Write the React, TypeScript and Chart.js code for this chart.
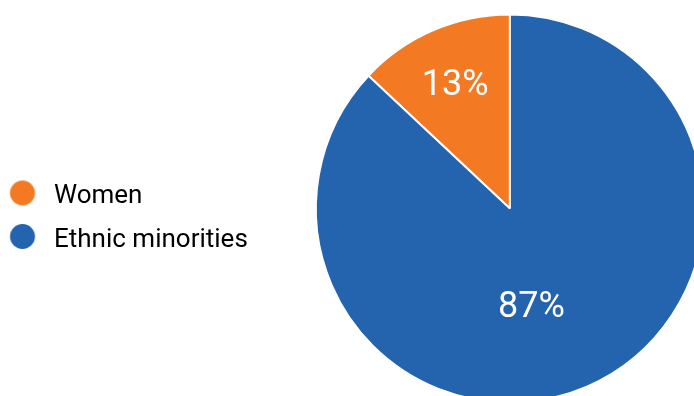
import React, { useEffect, useRef } from "react";
import { Chart, registerables } from "chart.js";

Chart.register(...registerables);

const categories = ["Women", "Ethnic minorities"];
const values = [13, 87];
const sliceColors = ["#F37A22", "#2463AE"];

const CANVAS_W = 780;
const CANVAS_H = 417;

function makeDot(color: string): HTMLCanvasElement {
  const c = document.createElement("canvas");
  c.width = 42;
  c.height = 34;
  const ctx = c.getContext("2d")!;
  ctx.fillStyle = color;
  ctx.beginPath();
  ctx.arc(14.25, 13.5, 12.5, 0, Math.PI * 2);
  ctx.fill();
  return c;
}

const LABEL_RADIUS = [0.71, 0.507];
const LABEL_ANGLE_SHIFT = [0, (10.8 * Math.PI) / 180];
const LABEL_FONT = 36;

const sliceLabelPlugin = {
  id: "sliceLabels",
  afterDatasetsDraw(chart: any) {
    const meta = chart.getDatasetMeta(0);
    const ds = chart.data.datasets[0].data as number[];
    const total = ds.reduce((a, b) => a + b, 0);
    const ctx = chart.ctx;
    ctx.save();
    ctx.font = LABEL_FONT + "px Roboto";
    ctx.fillStyle = "#ffffff";
    ctx.textAlign = "center";
    ctx.textBaseline = "alphabetic";
    meta.data.forEach((arc: any, i: number) => {
      const p = arc.getProps(["x", "y", "startAngle", "endAngle", "outerRadius"], true);
      const mid = (p.startAngle + p.endAngle) / 2 + LABEL_ANGLE_SHIFT[i];
      const r = p.outerRadius * LABEL_RADIUS[i];
      const txt = Math.round((ds[i] / total) * 100) + "%";
      ctx.fillText(
        txt,
        p.x + Math.cos(mid) * r,
        p.y + Math.sin(mid) * r + LABEL_FONT * 0.355
      );
    });
    ctx.restore();
  },
};

export default function App() {
  const ref = useRef<HTMLCanvasElement | null>(null);

  useEffect(() => {
    if (!ref.current) return;
    const dots = sliceColors.map(makeDot);
    const chart = new Chart(ref.current, {
      type: "pie",
      data: {
        labels: categories,
        datasets: [
          {
            data: values,
            backgroundColor: sliceColors,
            borderColor: "#ffffff",
            borderWidth: 2,
          },
        ],
      },
      options: {
        responsive: false,
        animation: false,
        rotation: -46.8,
        radius: 194,
        layout: { padding: { left: 0, right: 18, top: 0, bottom: 0 } },
        plugins: {
          tooltip: { enabled: false },
          legend: {
            position: "left",
            title: {
              display: true,
              text: "",
              padding: 0,
              font: { size: 10, lineHeight: 1.95 },
            },
            labels: {
              usePointStyle: true,
              pointStyleWidth: 23.5,
              padding: 17.5,
              color: "#000000",
              font: { family: "Roboto", size: 26 },
              generateLabels: () =>
                categories.map((t, i) => ({
                  text: t,
                  fillStyle: sliceColors[i],
                  strokeStyle: sliceColors[i],
                  lineWidth: 0,
                  pointStyle: dots[i],
                  hidden: false,
                  index: i,
                  fontColor: "#000000",
                })),
            },
          },
        },
      },
      plugins: [sliceLabelPlugin],
    } as any);
    return () => chart.destroy();
  }, []);

  return (
    <div
      style={{
        position: "fixed",
        left: 0,
        top: 0,
        width: 694,
        height: 396,
        overflow: "hidden",
        background: "#ffffff",
      }}
    >
      <canvas ref={ref} width={CANVAS_W} height={CANVAS_H} style={{ display: "block" }} />
    </div>
  );
}
